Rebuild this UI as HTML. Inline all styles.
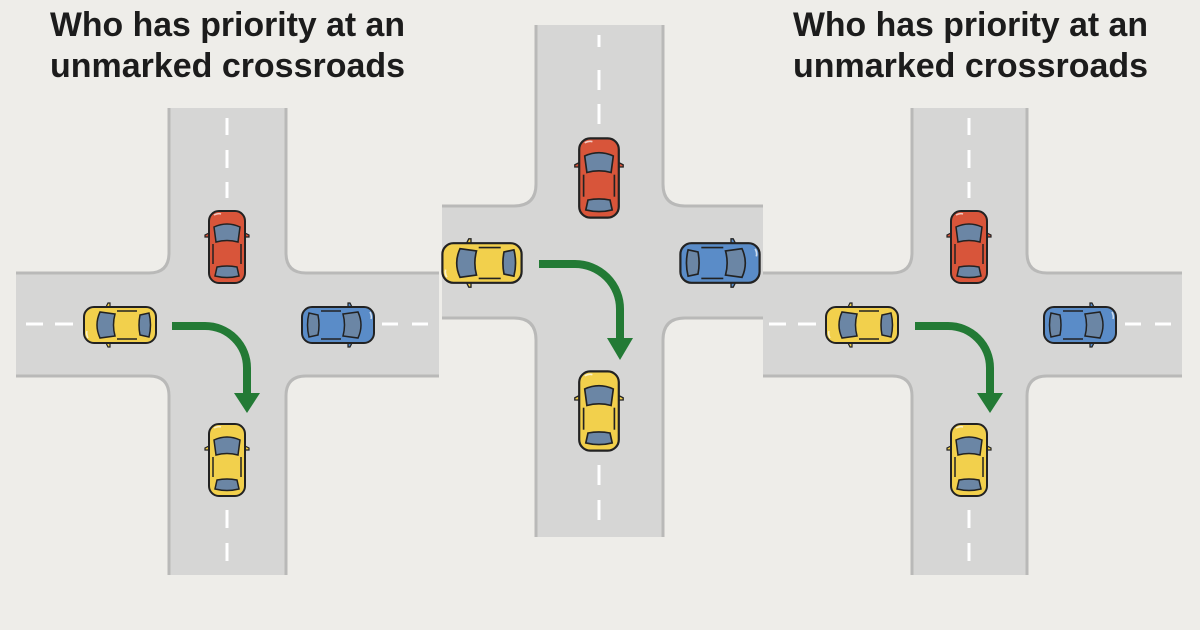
<!DOCTYPE html>
<html><head><meta charset="utf-8"><style>
html,body{margin:0;padding:0;background:#eeede9;}
svg{display:block;}
</style></head><body>
<svg width="1200" height="630" viewBox="0 0 1200 630" xmlns="http://www.w3.org/2000/svg">
<defs>
<g id="car">
  <path d="M-18,-14 L-22,-12 L-22,-10 L-17,-10 Z" stroke="#222" stroke-width="1.2"/>
  <path d="M18,-14 L22,-12 L22,-10 L17,-10 Z" stroke="#222" stroke-width="1.2"/>
  <rect x="-18" y="-36" width="36" height="72" rx="10" stroke="#222" stroke-width="2"/>
  <path d="M-13,-20 Q0,-26 13,-20 L11,-5 Q0,-8 -11,-5 Z" fill="#6b86a5" stroke="#222" stroke-width="1.5"/>
  <path d="M-10,20 Q0,18 10,20 L12,29 Q0,32 -12,29 Z" fill="#6b86a5" stroke="#222" stroke-width="1.5"/>
  <line x1="-14" y1="-3" x2="-14" y2="17" stroke="#222" stroke-width="1.5"/>
  <line x1="14" y1="-3" x2="14" y2="17" stroke="#222" stroke-width="1.5"/>
  <path d="M-13,-32 Q-9,-34 -6,-33" stroke="#fff" stroke-width="1.5" fill="none" opacity=".7"/>
</g>
</defs>
<rect width="1200" height="630" fill="#eeede9"/>
<g id="roads"></g>
<g font-family="Liberation Sans, Arial, sans-serif" font-weight="bold" font-size="34" fill="#1c1c1c">
  <text x="50" y="36" textLength="355" lengthAdjust="spacingAndGlyphs">Who has priority at an</text>
  <text x="50" y="77" textLength="355" lengthAdjust="spacingAndGlyphs">unmarked crossroads</text>
  <text x="793" y="36" textLength="355" lengthAdjust="spacingAndGlyphs">Who has priority at an</text>
  <text x="793" y="77" textLength="355" lengthAdjust="spacingAndGlyphs">unmarked crossroads</text>
</g>
<g id="fg"></g>
</svg>
<script>
var NS="http://www.w3.org/2000/svg";
function el(parent,tag,attrs){var e=document.createElementNS(NS,tag);for(var k in attrs)e.setAttribute(k,attrs[k]);parent.appendChild(e);return e;}
var roads=document.getElementById('roads'), fg=document.getElementById('fg');
function cross(a,b,top,bot,l,r,c,d,R){
  var p="M"+a+","+top+" L"+b+","+top+" L"+b+","+(c-R)+" Q"+b+","+c+" "+(b+R)+","+c+" L"+r+","+c+" L"+r+","+d+" L"+(b+R)+","+d+" Q"+b+","+d+" "+b+","+(d+R)+" L"+b+","+bot+" L"+a+","+bot+" L"+a+","+(d+R)+" Q"+a+","+d+" "+(a-R)+","+d+" L"+l+","+d+" L"+l+","+c+" L"+(a-R)+","+c+" Q"+a+","+c+" "+a+","+(c-R)+" Z";
  el(roads,'path',{d:p,fill:'#d6d6d5'});
  var s={fill:'none',stroke:'#b9b9b8','stroke-width':3};
  s.d="M"+a+","+top+" L"+a+","+(c-R)+" Q"+a+","+c+" "+(a-R)+","+c+" L"+l+","+c; el(roads,'path',Object.assign({},s));
  s.d="M"+b+","+top+" L"+b+","+(c-R)+" Q"+b+","+c+" "+(b+R)+","+c+" L"+r+","+c; el(roads,'path',Object.assign({},s));
  s.d="M"+a+","+bot+" L"+a+","+(d+R)+" Q"+a+","+d+" "+(a-R)+","+d+" L"+l+","+d; el(roads,'path',Object.assign({},s));
  s.d="M"+b+","+bot+" L"+b+","+(d+R)+" Q"+b+","+d+" "+(b+R)+","+d+" L"+r+","+d; el(roads,'path',Object.assign({},s));
}
function dashV(x,ys){ys.forEach(function(y){el(roads,'rect',{x:x-1.5,y:y[0],width:3,height:y[1]-y[0],fill:'#fff'});});}
function dashH(y,xs){xs.forEach(function(x){el(roads,'rect',{x:x[0],y:y-1.5,width:x[1]-x[0],height:3,fill:'#fff'});});}
function car(x,y,rot,col,sc){
  var g=el(fg,'g',{transform:"translate("+x+","+y+") rotate("+rot+") scale("+(sc||1)+")",fill:col});
  var u=el(g,'use',{href:'#car'});
  u.setAttributeNS("http://www.w3.org/1999/xlink","xlink:href","#car");
}
function arrow(d,head){
  el(fg,'path',{d:d,fill:'none',stroke:'#237a35','stroke-width':8});
  el(fg,'polygon',{points:head,fill:'#237a35'});
}
var RED='#d8553a',YEL='#f2d04c',BLUE='#5a8cc8';
cross(169,286,108,575,16,439,273,376,20);
dashV(227,[[118,135],[150,168],[182,198],[510,528],[543,561]]);
dashH(324,[[26,43],[55,73],[382,398],[412,428]]);
cross(912,1027,108,575,763,1182,273,376,20);
dashV(969,[[118,135],[150,168],[182,198],[510,528],[543,561]]);
dashH(324,[[769,786],[798,816],[1125,1141],[1155,1171]]);
cross(536,663,25,537,442,763,206,318,22);
dashV(599,[[35,47],[70,90],[104,124],[465,485],[500,520]]);

car(227,247,0,RED);
car(120,325,-90,YEL);
car(338,325,90,BLUE);
car(227,460,0,YEL);
arrow("M172,326 H205 A42,42 0 0 1 247,368 V395","234,393 260,393 247,413");

car(969,247,0,RED);
car(862,325,-90,YEL);
car(1080,325,90,BLUE);
car(969,460,0,YEL);
arrow("M915,326 H948 A42,42 0 0 1 990,368 V395","977,393 1003,393 990,413");

car(599,178,0,RED,1.1);
car(482,263,-90,YEL,1.1);
car(720,263,90,BLUE,1.1);
car(599,411,0,YEL,1.1);
arrow("M539,264 H575 A45,45 0 0 1 620,309 V340","607,338 633,338 620,360");
</script>
</body></html>
